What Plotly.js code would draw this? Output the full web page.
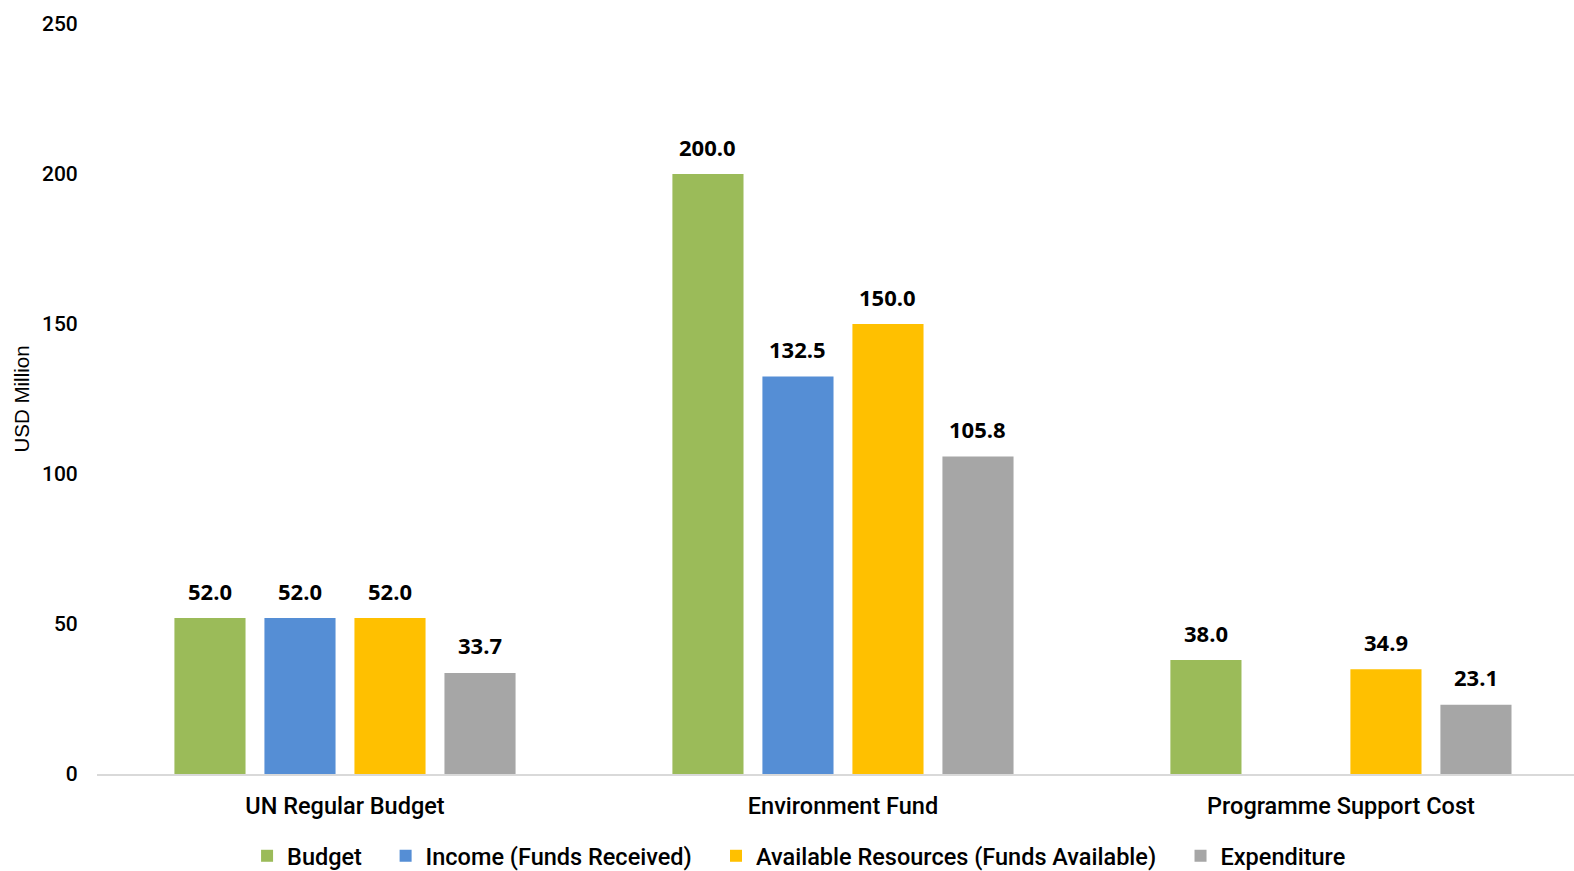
<!DOCTYPE html>
<html>
<head>
<meta charset="utf-8">
<script src="https://cdn.plot.ly/plotly-3.0.1.min.js"></script>
<style>html,body{margin:0;padding:0;background:#fff;}#chart{width:1574px;height:871px;}</style>
</head>
<body>
<div id="chart"></div>
<script>
const categories = ["UN Regular Budget", "Environment Fund", "Programme Support Cost"];
const seriesNames = ["Budget", "Income (Funds Received)", "Available Resources (Funds Available)", "Expenditure"];
const budget = [52.0, 200.0, 38.0];
const income = [52.0, 132.5, null];
const available = [52.0, 150.0, 34.9];
const expenditure = [33.7, 105.8, 23.1];
const yTicks = [0, 50, 100, 150, 200, 250];
const colors = ["#9BBB59", "#558ED5", "#FFC000", "#A6A6A6"];

const values = [budget, income, available, expenditure];
const legendIds = ["legend", "legend2", "legend3", "legend4"];
const legendX = [0.1016, 0.1954, 0.4191, 0.7336];

const traces = values.map((v, i) => ({
  type: "bar",
  name: seriesNames[i],
  x: categories,
  y: v,
  marker: {color: colors[i]},
  legend: legendIds[i],
  hoverinfo: "none"
}));

// data labels as annotations above each bar
const slotPx = 90;
const annotations = [];
values.forEach((v, i) => {
  v.forEach((val, j) => {
    if (val === null || val === undefined) return;
    annotations.push({
      x: categories[j], y: val, xref: "x", yref: "y",
      text: val.toFixed(1), showarrow: false,
      xanchor: "center", yanchor: "middle",
      xshift: (i - 1.5) * slotPx, yshift: 27.5,
      font: {family: "Open Sans", size: 22, color: "#000", weight: "bold"}
    });
  });
});

const layout = {
  width: 1574, height: 871,
  margin: {l: 97, r: 0, t: 24, b: 97, autoexpand: false},
  paper_bgcolor: "#fff", plot_bgcolor: "#fff",
  barmode: "group",
  bargap: 0.277,
  bargroupgap: 0.21,
  showlegend: true,
  annotations: annotations,
  xaxis: {
    range: [-0.498, 2.468],
    showline: true, linecolor: "#D9D9D9", linewidth: 2,
    ticks: "outside", ticklen: 10, tickcolor: "rgba(0,0,0,0)",
    tickfont: {family: "Roboto", size: 23.5, color: "#000", weight: 500},
    showgrid: false, zeroline: false, fixedrange: true
  },
  yaxis: {
    range: [0, 250],
    tickvals: yTicks,
    ticktext: yTicks.map(String),
    showgrid: false, zeroline: false, showline: false,
    ticks: "outside", ticklen: 14, tickcolor: "rgba(0,0,0,0)",
    tickfont: {family: "Roboto", size: 21, color: "#000", weight: 500},
    title: {text: "USD Million", font: {family: "Liberation Sans", size: 20.5, color: "#000"}, standoff: 6},
    fixedrange: true
  }
};

legendIds.forEach((id, i) => {
  layout[id] = {
    orientation: "h", x: legendX[i], xanchor: "left", y: -0.080, yanchor: "top",
    font: {family: "Roboto", size: 23.5, color: "#000", weight: 500},
    bgcolor: "rgba(0,0,0,0)",
    itemclick: false, itemdoubleclick: false
  };
});

Plotly.newPlot("chart", traces, layout, {displayModeBar: false, staticPlot: true});
</script>
</body>
</html>
